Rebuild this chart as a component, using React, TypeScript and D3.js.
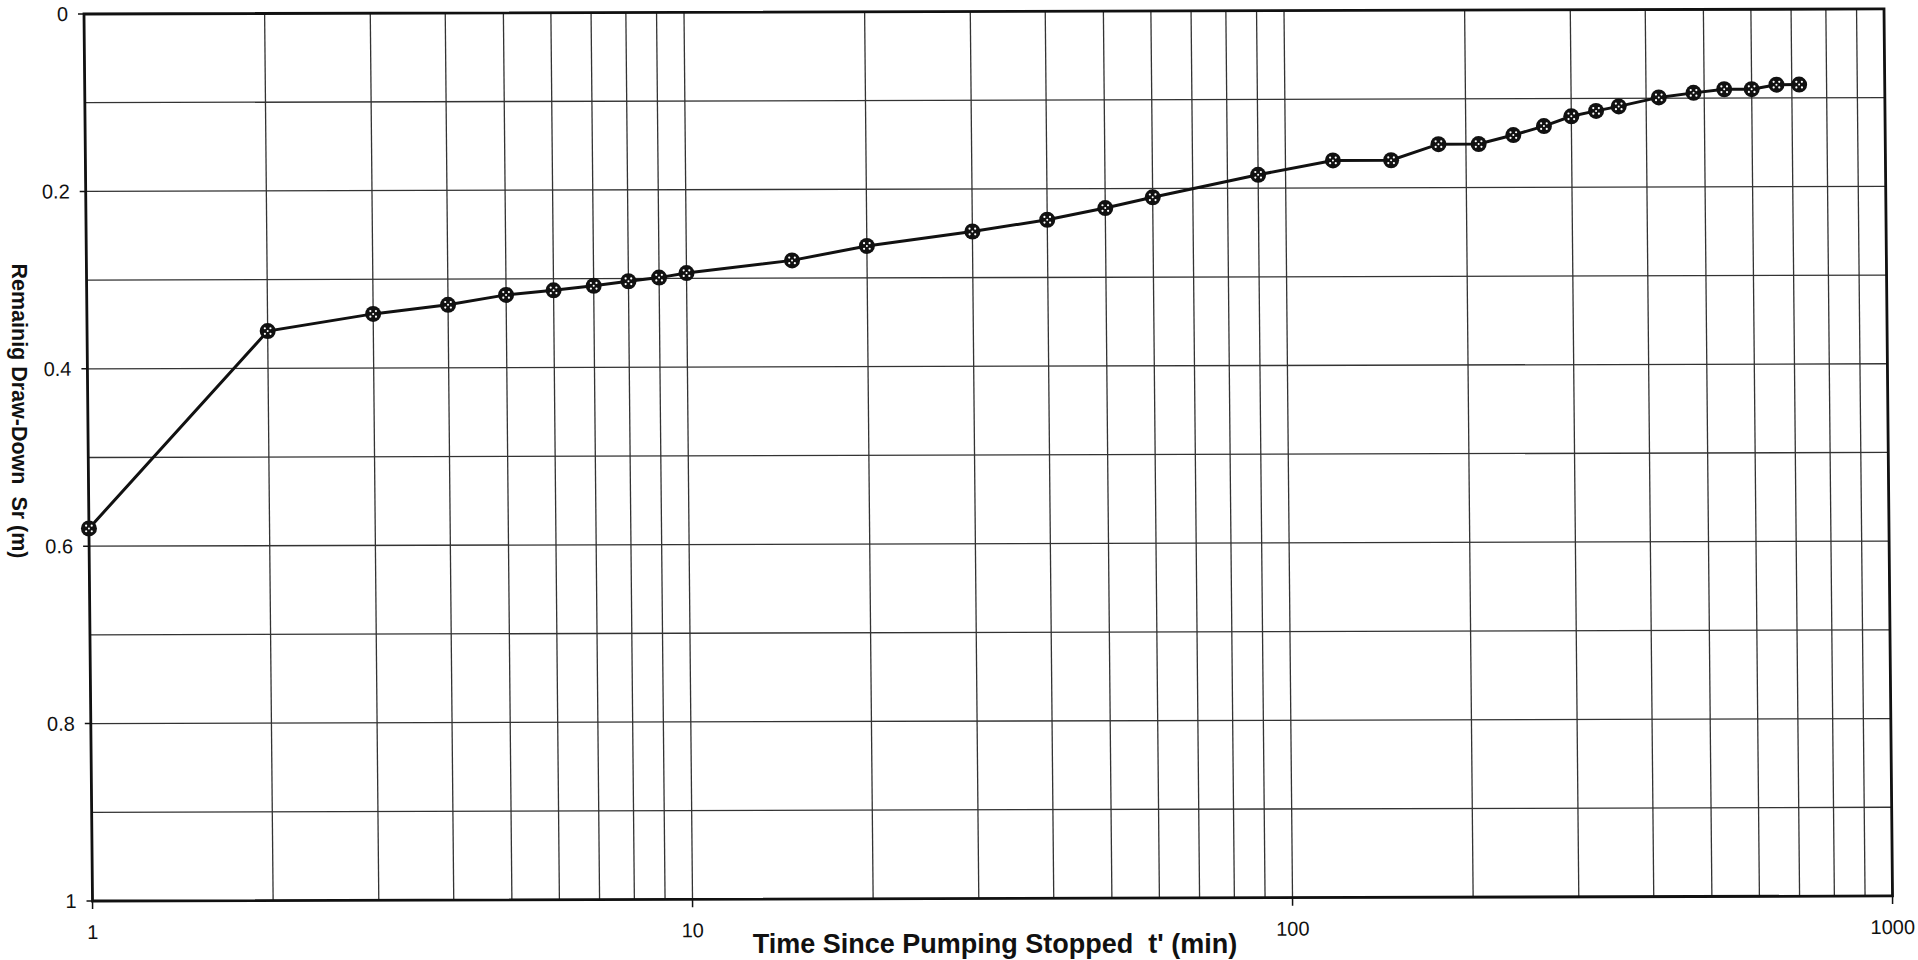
import React from "react";
import * as d3 from "d3";

// Recovery test: time since pumping stopped (min) and remaining draw-down (m)
const times: number[] = [
  1, 2, 3, 4, 5, 6, 7, 8, 9, 10, 15, 20, 30, 40, 50, 60, 90, 120, 150, 180,
  210, 240, 270, 300, 330, 360, 420, 480, 540, 600, 660, 720,
];
const drawdown: number[] = [
  0.58, 0.358, 0.339, 0.329, 0.318, 0.313, 0.308, 0.303, 0.299, 0.294, 0.28,
  0.264, 0.248, 0.235, 0.222, 0.21, 0.185, 0.169, 0.169, 0.151, 0.151, 0.141,
  0.131, 0.12, 0.114, 0.109, 0.099, 0.094, 0.09, 0.09, 0.085, 0.085,
];

const xTickValues: number[] = [1, 10, 100, 1000];
const xTickLabels: string[] = ["1", "10", "100", "1000"];
const yTickValues: number[] = [0, 0.2, 0.4, 0.6, 0.8, 1];
const yTickLabels: string[] = ["0", "0.2", "0.4", "0.6", "0.8", "1"];

const xTitle = "Time Since Pumping Stopped  t' (min)";
const yTitle = "Remainig Draw-Down  Sr (m)";

const WIDTH = 1918;
const HEIGHT = 960;
const ORIGIN_X = 84;
const ORIGIN_Y = 14;
const PW = 1800;
const PH = 887;

export default function App() {
  const x = d3.scaleLog().domain([1, 1000]).range([0, PW]);
  const y = d3.scaleLinear().domain([0, 1]).range([0, PH]);

  // every 1..9 multiple of each decade
  const vGrid: number[] = [];
  for (let dec = 1; dec < 1000; dec *= 10) {
    for (let m = 1; m <= 9; m++) vGrid.push(dec * m);
  }
  vGrid.push(1000);
  const hGrid = d3.range(0, 11).map((i) => i / 10);

  const pts = times.map((t, i) => [x(t), y(drawdown[i])] as [number, number]);
  const line = d3.line<[number, number]>().x((d) => d[0]).y((d) => d[1]);

  const font = "'Liberation Sans', Arial, sans-serif";

  return (
    <svg
      width={WIDTH}
      height={HEIGHT}
      style={{ position: "absolute", left: 0, top: 0, background: "#fff" }}
      fontFamily={font}
    >
      <rect width={WIDTH} height={HEIGHT} fill="#fff" />
      <g transform={`translate(${ORIGIN_X},${ORIGIN_Y}) matrix(1,-0.0028,0.0096,1,0,0)`}>
        {/* grid */}
        {hGrid.map((v) => (
          <line key={"h" + v} x1={0} x2={PW} y1={y(v)} y2={y(v)} stroke="#333" strokeWidth={1.3} />
        ))}
        {vGrid.map((v) => (
          <line key={"v" + v} x1={x(v)} x2={x(v)} y1={0} y2={PH} stroke="#333" strokeWidth={1.3} />
        ))}
        {/* frame */}
        <rect x={0} y={0} width={PW} height={PH} fill="none" stroke="#111" strokeWidth={2.8} />
        {/* ticks */}
        {yTickValues.map((v) => (
          <line key={"yt" + v} x1={-6} x2={0} y1={y(v)} y2={y(v)} stroke="#111" strokeWidth={1.5} />
        ))}
        {xTickValues.map((v) => (
          <line key={"xt" + v} x1={x(v)} x2={x(v)} y1={PH} y2={PH + 8} stroke="#111" strokeWidth={1.5} />
        ))}
        {/* tick labels */}
        {yTickValues.map((v, i) => (
          <text key={"yl" + v} x={-16} y={y(v)} dy="0.35em" textAnchor="end" fontSize={20} fill="#111">
            {yTickLabels[i]}
          </text>
        ))}
        {xTickValues.map((v, i) => (
          <text key={"xl" + v} x={x(v)} y={PH + 31} dy="0.35em" textAnchor="middle" fontSize={20} fill="#111">
            {xTickLabels[i]}
          </text>
        ))}
        {/* series */}
        <path d={line(pts) ?? ""} fill="none" stroke="#111" strokeWidth={3} />
        {pts.map(([px, py], i) => (
          <g key={"p" + i} transform={`translate(${px},${py})`}>
            <circle r={8} fill="#111" />
            <circle cx={-2.8} cy={-2.8} r={1.1} fill="#fff" />
            <circle cx={2.8} cy={-2.8} r={1.1} fill="#fff" />
            <circle cx={-2.8} cy={2.8} r={1.1} fill="#fff" />
            <circle cx={2.8} cy={2.8} r={1.1} fill="#fff" />
            <circle cx={0} cy={0} r={1} fill="#fff" />
          </g>
        ))}
      </g>
      {/* axis titles */}
      <text
        x={995}
        y={944}
        dy="0.35em"
        textAnchor="middle"
        fontSize={27}
        fontWeight="bold"
        fill="#111"
        style={{ whiteSpace: "pre" }}
      >
        {xTitle}
      </text>
      <text
        transform="translate(20,411) rotate(90)"
        textAnchor="middle"
        dy="0.35em"
        fontSize={21.5}
        fontWeight="bold"
        fill="#111"
        style={{ whiteSpace: "pre" }}
      >
        {yTitle}
      </text>
    </svg>
  );
}
